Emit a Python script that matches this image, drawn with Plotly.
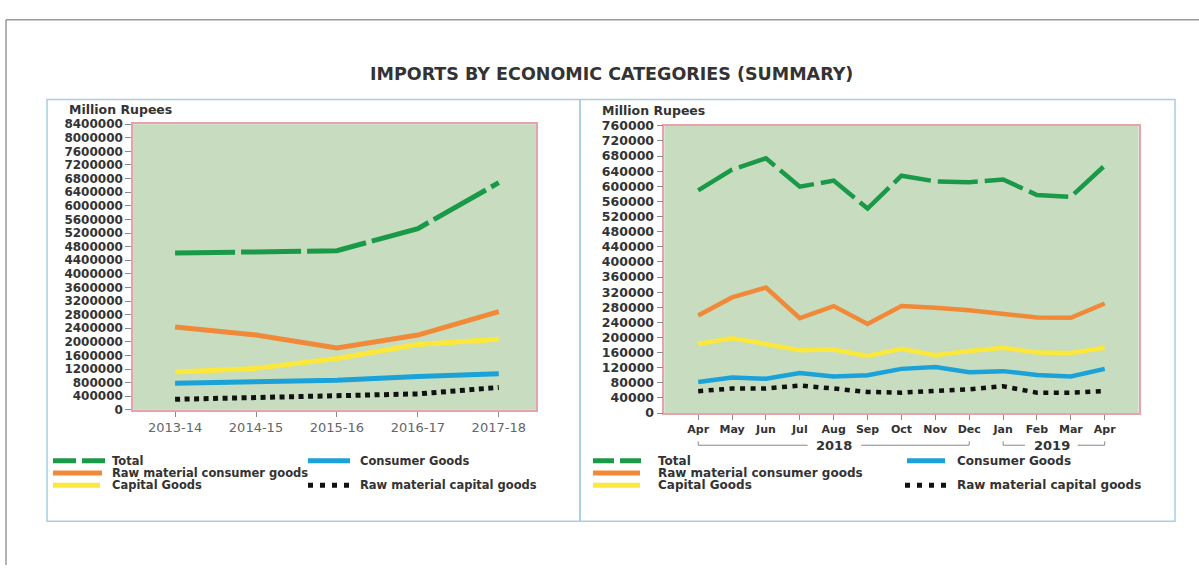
import plotly.graph_objects as go

# ---------------- data ----------------
years = ["2013-14", "2014-15", "2015-16", "2016-17", "2017-18"]
annual_total = [4610000, 4650000, 4680000, 5330000, 6680000]
annual_raw_consumer = [2440000, 2200000, 1820000, 2200000, 2890000]
annual_capital = [1110000, 1220000, 1510000, 1920000, 2080000]
annual_consumer = [780000, 820000, 870000, 980000, 1060000]
annual_raw_capital = [310000, 370000, 400000, 470000, 660000]

months = ["Apr", "May", "Jun", "Jul", "Aug", "Sep", "Oct", "Nov", "Dec", "Jan", "Feb", "Mar", "Apr"]
month_year = ["2018"] * 9 + ["2019"] * 4
monthly_total = [589000, 644000, 674000, 599000, 615000, 541000, 628000, 613000, 611000, 618000, 577000, 572000, 655000]
monthly_raw_consumer = [258000, 306000, 332000, 251000, 283000, 236000, 283000, 279000, 272000, 261000, 253000, 252000, 290000]
monthly_capital = [183000, 198000, 183000, 166000, 168000, 151000, 170000, 153000, 164000, 173000, 160000, 159000, 173000]
monthly_consumer = [82000, 94000, 91000, 106000, 97000, 100000, 117000, 122000, 108000, 111000, 101000, 97000, 117000]
monthly_raw_capital = [58000, 65000, 65000, 73000, 65000, 56000, 54000, 58000, 63000, 71000, 54000, 54000, 58000]

series_names = ["Total", "Raw material consumer goods", "Capital Goods",
                "Consumer Goods", "Raw material capital goods"]
annual_values = [annual_total, annual_raw_consumer, annual_capital, annual_consumer, annual_raw_capital]
monthly_values = [monthly_total, monthly_raw_consumer, monthly_capital, monthly_consumer, monthly_raw_capital]

# ---------------- styles ----------------
W, H = 1199, 572
FONT = "DejaVu Sans"
colors = ["#1a9a48", "#f08a38", "#fbe83a", "#1ba2d8", "#111111"]
dash_left = ["60px,6px", "solid", "solid", "solid", "5px,4.5px"]
dash_right = ["40px,7px", "solid", "solid", "solid", "5px,5.5px"]
PINK = "#e6a2ad"
BG = "#c8dcc0"
BOX = "#a6cfe0"


def px(x):
    return x / W


def py(y):
    return 1 - y / H


month_idx = list(range(len(months)))

fig = go.Figure()
draw_order = [4, 3, 2, 1, 0]
for i in draw_order:
    fig.add_trace(go.Scatter(
        x=years, y=annual_values[i], mode="lines", name=series_names[i],
        line=dict(color=colors[i], width=5, dash=dash_left[i]),
        xaxis="x", yaxis="y", showlegend=False))
for i in draw_order:
    fig.add_trace(go.Scatter(
        x=month_idx, y=monthly_values[i], mode="lines", name=series_names[i],
        line=dict(color=colors[i], width=4.5, dash=dash_right[i]),
        xaxis="x2", yaxis="y2", showlegend=False))

axis_common = dict(showline=True, linecolor=PINK, linewidth=1.5, mirror=True,
                   showgrid=False, zeroline=False, ticks="outside", tickcolor="#8a8a8a",
                   tickwidth=1)

fig.update_layout(
    width=W, height=H, margin=dict(l=0, r=0, t=0, b=0),
    paper_bgcolor="white", plot_bgcolor=BG,
    font=dict(family=FONT, color="#333333"),
    xaxis=dict(domain=[px(133), px(536)], anchor="y", type="category",
               range=[-0.52, 4.46], ticklen=5,
               tickfont=dict(family=FONT, size=13, color="#666666"), **axis_common),
    yaxis=dict(domain=[py(412.7), py(119.3)], anchor="x", range=[0, 8400000],
               dtick=400000, tick0=0, tickformat="d", ticklen=6,
               tickfont=dict(family=FONT, size=12, color="#333333", weight="bold"), **axis_common),
    xaxis2=dict(domain=[px(664.3), px(1138.6)], anchor="y2", range=[-1, 13],
                tickvals=month_idx, ticktext=months, ticklen=5,
                tickfont=dict(family=FONT, size=11, color="#333333", weight="bold"), **axis_common),
    yaxis2=dict(domain=[py(416), py(121)], anchor="x2", range=[0, 760000],
                dtick=40000, tick0=0, tickformat="d", ticklen=6,
                tickfont=dict(family=FONT, size=12.5, color="#333333", weight="bold"), **axis_common),
)

shapes = []
annotations = []

# outer frame and panel boxes
shapes.append(dict(type="line", xref="paper", yref="paper", x0=px(6), x1=1, y0=py(12), y1=py(12),
                   line=dict(color="#9a9a9a", width=1.5)))
shapes.append(dict(type="line", xref="paper", yref="paper", x0=px(6), x1=px(6), y0=py(12), y1=0,
                   line=dict(color="#9a9a9a", width=1.5)))
for x0, x1 in [(47, 580), (580, 1175)]:
    shapes.append(dict(type="rect", xref="paper", yref="paper", x0=px(x0), x1=px(x1),
                       y0=py(527), y1=py(94), line=dict(color=BOX, width=1.5), layer="below"))

# title
annotations.append(dict(text="<b>IMPORTS BY ECONOMIC CATEGORIES (SUMMARY)</b>", xref="paper", yref="paper",
                        x=px(611), y=py(68), showarrow=False, xanchor="center", yanchor="middle",
                        font=dict(family=FONT, size=17.5, color="#333333")))
# axis unit labels
for x, y in [(67, 104), (600, 105)]:
    annotations.append(dict(text="<b>Million Rupees</b>", xref="paper", yref="paper",
                            x=px(x), y=py(y), showarrow=False, xanchor="left", yanchor="middle",
                            font=dict(family=FONT, size=12.5, color="#333333")))

# year brackets under the monthly chart
BR_Y = 449
TK = 4
brackets = [("2018", 0, 8, 3.23, 4.81, 4.02), ("2019", 9, 12, 9.65, 11.2, 10.45)]
for label, a, b, g0, g1, c in brackets:
    shapes.append(dict(type="path", xref="x2", yref="paper",
                       path=f"M {a},{py(BR_Y - TK)} L {a},{py(BR_Y)} L {g0},{py(BR_Y)}",
                       line=dict(color="#888888", width=1)))
    shapes.append(dict(type="path", xref="x2", yref="paper",
                       path=f"M {g1},{py(BR_Y)} L {b},{py(BR_Y)} L {b},{py(BR_Y - TK)}",
                       line=dict(color="#888888", width=1)))
    annotations.append(dict(text=f"<b>{label}</b>", xref="x2", yref="paper", x=c, y=py(BR_Y),
                            showarrow=False, xanchor="center", yanchor="middle",
                            font=dict(family=FONT, size=13, color="#333333")))

# legends (manual, two per panel)
legend_layout = [
    # (series index, key x0, key x1, text x, y, font size, key dash)
    (0, 53, 105, 110, 465, 11.5, "23px,6px"),
    (1, 53, 102, 110, 477.5, 11.5, "solid"),
    (2, 53, 100, 110, 490, 11.5, "solid"),
    (3, 308, 350, 358, 465, 11.5, "solid"),
    (4, 308, 349, 358, 490, 11.5, "5px,7px"),
    (0, 593, 641, 656, 465, 12, "21px,6px"),
    (1, 593, 640, 656, 477.5, 12, "solid"),
    (2, 593, 640, 656, 490, 12, "solid"),
    (3, 907, 945, 955, 465, 12, "solid"),
    (4, 905, 946, 955, 490, 12, "5px,7px"),
]
for idx, k0, k1, tx, y, fs, kd in legend_layout:
    shapes.append(dict(type="line", xref="paper", yref="paper", x0=px(k0), x1=px(k1),
                       y0=py(y), y1=py(y), line=dict(color=colors[idx], width=5, dash=kd)))
    annotations.append(dict(text=f"<b>{series_names[idx]}</b>", xref="paper", yref="paper",
                            x=px(tx), y=py(y), showarrow=False, xanchor="left", yanchor="middle",
                            font=dict(family=FONT, size=fs, color="#333333")))

fig.update_layout(shapes=shapes, annotations=annotations)

fig.write_html("out.html", config={"displayModeBar": False},
               post_script="document.body.style.margin='0px';")
